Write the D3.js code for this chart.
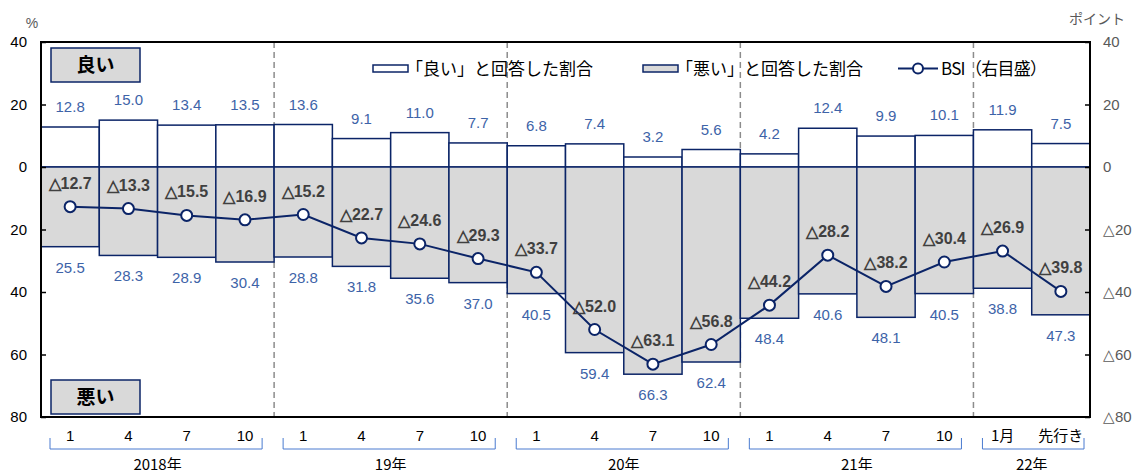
<!DOCTYPE html>
<html><head><meta charset="utf-8">
<script src="https://cdn.jsdelivr.net/npm/d3@7"></script>
<style>body{margin:0;background:#fff}svg{display:block}</style>
</head><body><svg id="c" width="1137" height="470"></svg>
<script>
const categories = ["1","4","7","10","1","4","7","10","1","4","7","10","1","4","7","10","1月","先行き"];
const years = ["2018年","19年","20年","21年","22年"];
const yearSizes = [4,4,4,4,2];
const goodValues = [12.8,15.0,13.4,13.5,13.6,9.1,11.0,7.7,6.8,7.4,3.2,5.6,4.2,12.4,9.9,10.1,11.9,7.5];
const badValues = [25.5,28.3,28.9,30.4,28.8,31.8,35.6,37.0,40.5,59.4,66.3,62.4,48.4,40.6,48.1,40.5,38.8,47.3];
const bsiValues = [-12.7,-13.3,-15.5,-16.9,-15.2,-22.7,-24.6,-29.3,-33.7,-52.0,-63.1,-56.8,-44.2,-28.2,-38.2,-30.4,-26.9,-39.8];
const leftTicks = [40,20,0,-20,-40,-60,-80];
const leftTickLabels = ["40","20","0","20","40","60","80"];
const rightTickLabels = ["40","20","0","△20","△40","△60","△80"];
const legendLabels = ["「良い」と回答した割合","「悪い」と回答した割合","BSI（右目盛）"];

const NAVY="#0b2467", BLUE="#3d63a8", GRAYTXT="#595959";
const JP="'Noto Sans CJK JP','Noto Sans',sans-serif", NUM="'Liberation Sans',Arial,sans-serif";
const svg=d3.select("#c");
const L=41,R=1090,T=42,B=417;
const x=d3.scaleBand().domain(d3.range(categories.length)).range([L,R]).padding(0);
const y=d3.scaleLinear().domain([40,-80]).range([T,B]);
const bw=x.bandwidth();

// year separators (behind bars)
let acc=0;
const bounds=[];
yearSizes.forEach(s=>{bounds.push([acc,acc+s]);acc+=s;});
bounds.slice(1).forEach(b=>{
  svg.append("line").attr("x1",x(b[0])).attr("x2",x(b[0])).attr("y1",T).attr("y2",B)
    .attr("stroke","#8c8c8c").attr("stroke-width",1.5).attr("stroke-dasharray","6,4");
});

// bars
svg.append("g").selectAll("rect").data(goodValues).join("rect")
  .attr("x",(d,i)=>x(i)).attr("width",bw).attr("y",d=>y(d)).attr("height",d=>y(0)-y(d))
  .attr("fill","#fff").attr("stroke",NAVY).attr("stroke-width",1.5);
svg.append("g").selectAll("rect").data(badValues).join("rect")
  .attr("x",(d,i)=>x(i)).attr("width",bw).attr("y",y(0)).attr("height",d=>y(-d)-y(0))
  .attr("fill","#d9d9d9").attr("stroke",NAVY).attr("stroke-width",1.5);

// frame
svg.append("rect").attr("x",L).attr("y",T).attr("width",R-L).attr("height",B-T)
  .attr("fill","none").attr("stroke","#000").attr("stroke-width",2);

// axes
const yl=d3.axisLeft(y).tickValues(leftTicks).tickSize(-5).tickPadding(14).tickFormat((d,i)=>leftTickLabels[i]);
const gl=svg.append("g").attr("transform",`translate(${L},0)`).call(yl);
gl.select(".domain").remove();
gl.selectAll("line").attr("stroke","#000").attr("stroke-width",1.5);
gl.selectAll("text").attr("font-family",NUM).attr("font-size",15).attr("fill","#000");
const yr=d3.axisRight(y).tickValues(leftTicks).tickSize(-5).tickPadding(13).tickFormat((d,i)=>rightTickLabels[i]);
const gr=svg.append("g").attr("transform",`translate(${R},0)`).call(yr);
gr.select(".domain").remove();
gr.selectAll("line").attr("stroke","#000").attr("stroke-width",1.5);
gr.selectAll("text").attr("font-family",NUM).attr("font-size",15).attr("fill",GRAYTXT);
svg.append("text").attr("x",32).attr("y",28).attr("text-anchor","middle").attr("font-family",NUM).attr("font-size",14).attr("fill",GRAYTXT).text("%");
svg.append("text").attr("x",1097).attr("y",24).attr("text-anchor","middle").attr("font-family",JP).attr("font-size",14).attr("fill",GRAYTXT).text("ポイント");

// value labels
svg.append("g").selectAll("text").data(goodValues).join("text")
  .attr("x",(d,i)=>x(i)+bw/2).attr("y",d=>y(d)-15).attr("text-anchor","middle")
  .attr("font-family",NUM).attr("font-size",15).attr("fill",BLUE).text(d=>d.toFixed(1));
svg.append("g").selectAll("text").data(badValues).join("text")
  .attr("x",(d,i)=>x(i)+bw/2).attr("y",d=>y(-d)+26).attr("text-anchor","middle")
  .attr("font-family",NUM).attr("font-size",15).attr("fill",BLUE).text(d=>d.toFixed(1));

// BSI line
const line=d3.line().x((d,i)=>x(i)+bw/2).y(d=>y(d));
svg.append("path").datum(bsiValues).attr("d",line).attr("fill","none").attr("stroke",NAVY).attr("stroke-width",2);
svg.append("g").selectAll("circle").data(bsiValues).join("circle")
  .attr("cx",(d,i)=>x(i)+bw/2).attr("cy",d=>y(d)).attr("r",5.5)
  .attr("fill","#fff").attr("stroke",NAVY).attr("stroke-width",2);
svg.append("g").selectAll("text").data(bsiValues).join("text")
  .attr("x",(d,i)=>x(i)+bw/2).attr("y",d=>y(d)-18).attr("text-anchor","middle")
  .attr("font-family",NUM).attr("font-size",16).attr("font-weight","bold").attr("fill","#404040")
  .text(d=>"△"+Math.abs(d).toFixed(1));

// 良い / 悪い boxes
[["良い",48],["悪い",380]].forEach(([t,yy])=>{
  svg.append("rect").attr("x",51).attr("y",yy).attr("width",89).attr("height",34)
    .attr("fill","#d9d9d9").attr("stroke",NAVY).attr("stroke-width",1.5);
  svg.append("text").attr("x",95.5).attr("y",yy+24).attr("text-anchor","middle")
    .attr("font-family",JP).attr("font-size",19).attr("font-weight","bold").attr("fill","#000").text(t);
});

// legend
const lg=svg.append("g");
lg.append("rect").attr("x",373).attr("y",65).attr("width",35).attr("height",7).attr("fill","#fff").attr("stroke",NAVY).attr("stroke-width",1.5);
lg.append("text").attr("x",406).attr("y",74.5).attr("font-family",JP).attr("font-size",17).attr("fill","#000").text(legendLabels[0]);
lg.append("rect").attr("x",643).attr("y",65).attr("width",35).attr("height",7).attr("fill","#d9d9d9").attr("stroke",NAVY).attr("stroke-width",1.5);
lg.append("text").attr("x",676).attr("y",74.5).attr("font-family",JP).attr("font-size",17).attr("fill","#000").text(legendLabels[1]);
lg.append("line").attr("x1",898).attr("x2",938).attr("y1",68.5).attr("y2",68.5).attr("stroke",NAVY).attr("stroke-width",2);
lg.append("circle").attr("cx",918).attr("cy",68.5).attr("r",5).attr("fill","#fff").attr("stroke",NAVY).attr("stroke-width",2);
lg.append("text").attr("x",941).attr("y",74.5).attr("font-family",JP).attr("font-size",17).attr("fill","#000")
  .attr("textLength",106).attr("lengthAdjust","spacing").text(legendLabels[2]);

// category labels
svg.append("g").selectAll("text").data(categories).join("text")
  .attr("x",(d,i)=>x(i)+bw/2).attr("y",441).attr("text-anchor","middle")
  .attr("font-family",d=>/^\d+$/.test(d)?NUM:JP).attr("font-size",15).attr("fill","#000").text(d=>d);

// year brackets
bounds.forEach((b,k)=>{
  const x0=x(b[0])+9, x1=Math.min(x(b[1]-1)+bw-12, R-6);
  svg.append("path").attr("d",`M${x0},438V449H${x(b[1]-1)+bw>=R ? R-6 : x1}V438`).attr("fill","none").attr("stroke","#4a7bd0").attr("stroke-width",1);
  svg.append("text").attr("x",(x(b[0])+x(b[1]-1)+bw)/2).attr("y",470).attr("text-anchor","middle")
    .attr("font-family",JP).attr("font-size",15).attr("fill","#000").text(years[k]);
});
</script></body></html>
